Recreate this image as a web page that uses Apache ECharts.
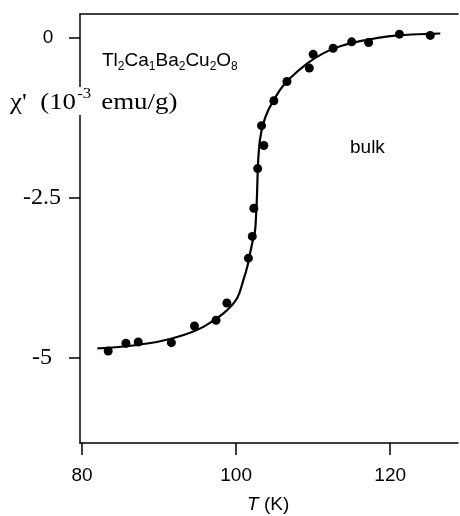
<!DOCTYPE html>
<html>
<head>
<meta charset="utf-8">
<script src="https://cdn.jsdelivr.net/npm/echarts@6/dist/echarts.min.js"></script>
<style>html,body{margin:0;padding:0;background:#fff}#c{width:460px;height:516px}</style>
</head>
<body>
<div id="c"></div>
<script>
// measured points: temperature (K), chi' (1e-3 emu/g)
var pointT   = [83.4, 85.7, 87.3, 91.6, 94.6, 97.4, 98.8, 101.6, 102.1, 102.3, 102.8, 103.6, 103.3, 104.9, 106.6, 109.5, 110.0, 112.6, 115.0, 117.2, 121.2, 125.2];
var pointChi = [-4.89, -4.77, -4.75, -4.76, -4.50, -4.41, -4.14, -3.44, -3.10, -2.66, -2.04, -1.68, -1.37, -0.98, -0.68, -0.47, -0.255, -0.16, -0.06, -0.07, 0.06, 0.04];
// fitted curve
var curveT   = [82.0, 85.4, 89.7, 93.2, 95.8, 98.4, 100.1, 100.95, 101.5, 101.82, 102.2, 102.47, 102.6, 102.69, 102.75, 102.8, 102.9, 103.1, 103.5, 104.2, 105.7, 107.0, 109.2, 111.3, 113.5, 115.7, 120.0, 126.5];
var curveChi = [-4.85, -4.82, -4.75, -4.64, -4.51, -4.30, -4.07, -3.78, -3.55, -3.36, -3.15, -3.00, -2.75, -2.53, -2.30, -2.11, -1.85, -1.59, -1.35, -1.12, -0.81, -0.63, -0.40, -0.24, -0.13, -0.06, 0.03, 0.07];
var xTicks = [80, 100, 120];
var yTicks = [0, -2.5, -5];
var yTickLabels = ['0', '-2.5', '-5'];

var chart = echarts.init(document.getElementById('c'), null, {renderer: 'canvas'});
var pts = pointT.map(function (t, i) { return [t, pointChi[i]]; });
var crv = curveT.map(function (t, i) { return [t, curveChi[i]]; });

chart.setOption({
  animation: false,
  backgroundColor: '#fff',
  grid: {left: 80, top: 14, width: 378, height: 429, containLabel: false},
  xAxis: [{
    type: 'value', min: 79.74, max: 128.8,
    axisLine: {show: true, onZero: false, lineStyle: {color: '#000', width: 1.5}},
    axisTick: {show: true, length: 12, inside: false, customValues: xTicks, lineStyle: {color: '#000', width: 1.5}},
    axisLabel: {customValues: xTicks, margin: 23, color: '#000', fontFamily: 'Liberation Sans', fontSize: 19},
    splitLine: {show: false}
  }, {
    type: 'value', position: 'top', min: 79.74, max: 128.8,
    axisLine: {show: true, onZero: false, lineStyle: {color: '#000', width: 1.5}},
    axisTick: {show: false}, axisLabel: {show: false}, splitLine: {show: false}
  }],
  yAxis: {
    type: 'value', min: -6.328, max: 0.375,
    axisLine: {show: true, onZero: false, lineStyle: {color: '#000', width: 1.5}},
    axisTick: {show: true, length: 11, customValues: yTicks, lineStyle: {color: '#000', width: 1.5}},
    axisLabel: {
      customValues: yTicks, margin: 38, align: 'center', color: '#000',
      formatter: function (v) {
        var i = yTicks.indexOf(v);
        var s = i >= 0 ? yTickLabels[i] : String(v);
        return v === 0 ? '{s|' + s + '}' : '{t|' + s + '}';
      },
      rich: {
        s: {fontFamily: 'Liberation Sans', fontSize: 19, color: '#000', padding: [0, 0, 0, 12]},
        t: {fontFamily: 'Liberation Serif', fontSize: 24, color: '#000'}
      }
    },
    splitLine: {show: false}
  },
  series: [{
    type: 'line', data: crv, smooth: 0.35, showSymbol: false,
    lineStyle: {color: '#000', width: 2.2}, z: 2
  }, {
    type: 'scatter', data: pts, symbol: 'circle', symbolSize: 9,
    itemStyle: {color: '#000', opacity: 1}, z: 3
  }],
  graphic: [{
    type: 'text', left: 10, top: 87, z: 10, scaleX: 1.12,
    style: {
      text: "{a|χ'  (10}{b|-3}{a| emu/g)}", backgroundColor: '#fff', padding: [0, 2, 0, 0],
      rich: {
        a: {fontFamily: 'Liberation Serif', fontSize: 24, color: '#000', verticalAlign: 'bottom', lineHeight: 28},
        b: {fontFamily: 'Liberation Serif', fontSize: 15, color: '#000', verticalAlign: 'top', lineHeight: 28, padding: [0, 3, 10, 1]}
      }
    }
  }, {
    type: 'text', left: 102, top: 51, z: 10,
    style: {
      text: '{m|Tl}{d|2}{m|Ca}{d|1}{m|Ba}{d|2}{m|Cu}{d|2}{m|O}{d|8}',
      rich: {
        m: {fontFamily: 'Liberation Sans', fontSize: 19, color: '#000', lineHeight: 24, verticalAlign: 'bottom'},
        d: {fontFamily: 'Liberation Sans', fontSize: 12, color: '#000', lineHeight: 24, verticalAlign: 'bottom', padding: [0, 0, -3, 0]}
      }
    }
  }, {
    type: 'text', left: 350, top: 138,
    style: {text: 'bulk', fontFamily: 'Liberation Sans', fontSize: 19, fill: '#000'}
  }, {
    type: 'text', left: 247, top: 495,
    style: {text: '{i|T} (K)', rich: {i: {fontFamily: 'Liberation Sans', fontStyle: 'italic', fontSize: 19, color: '#000'}}, fontFamily: 'Liberation Sans', fontSize: 19, fill: '#000'}
  }]
});
</script>
</body>
</html>
